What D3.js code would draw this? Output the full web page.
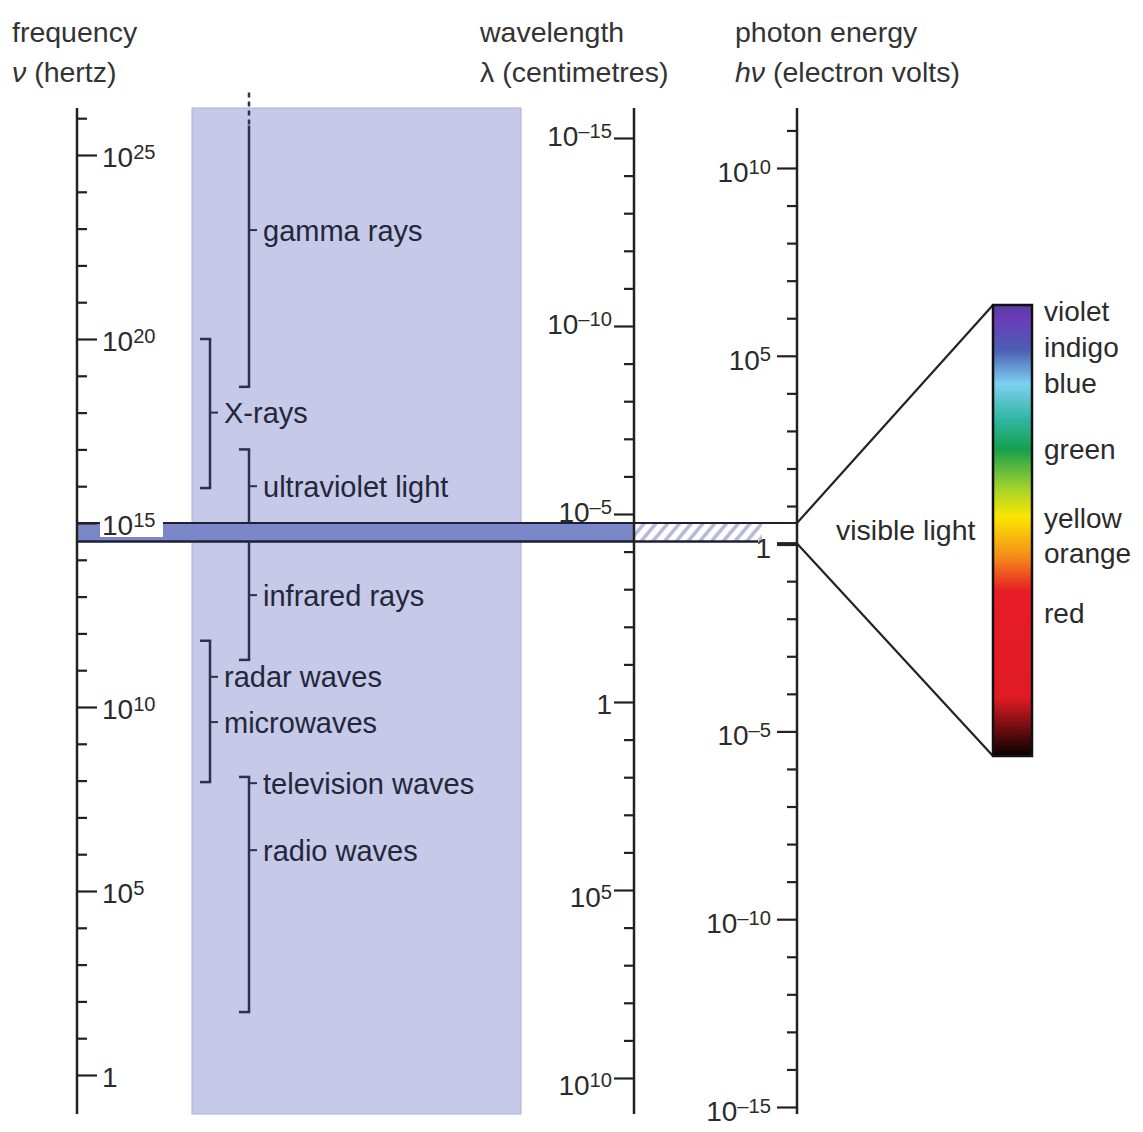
<!DOCTYPE html>
<html>
<head>
<meta charset="utf-8">
<title>Electromagnetic spectrum</title>
<style>
	body { margin: 0; background: #fff; }
	svg text { font-family: "Liberation Sans", Arial, sans-serif; fill: #2b2b2b; }
</style>
</head>
<body>
<div class="drawing"></div>
<script src="https://d3js.org/d3.v7.min.js"></script>
<script>
	// exponents of the major ticks on each scale
	var freqMajor = [25, 20, 15, 10, 5, 0];
	var lambdaMajor = [-15, -10, -5, 0, 5, 10];
	var energyMajor = [10, 5, 0, -5, -10, -15];

	// brackets, in log10(hertz)
	var bracketCol = ["inner", "outer", "inner", "inner", "outer", "inner"];
	var bracketTop = [25.8, 20.0, 17.0, 14.5, 11.8, 8.1];
	var bracketBottom = [18.7, 15.95, 15.0, 11.28, 7.96, 1.71];
	var bracketFootTop = [false, true, true, false, true, true];
	var bracketFootBottom = [true, true, false, true, true, true];

	// region names and where their label sits, log10(hertz)
	var regionNames = ["gamma rays", "X-rays", "ultraviolet light", "infrared rays",
		"radar waves", "microwaves", "television waves", "radio waves"];
	var regionAt = [22.96, 18.0, 16.0, 13.04, 10.82, 9.59, 7.93, 6.11];
	var regionCol = ["inner", "outer", "inner", "inner", "outer", "outer", "inner", "inner"];

	// visible band, log10(hertz)
	var visibleFreq = [14.5, 15.0];

	// colours of the visible spectrum, 0 = top of bar (violet)
	var colourNames = ["violet", "indigo", "blue", "green", "yellow", "orange", "red"];
	var colourAt = [0.013, 0.093, 0.173, 0.32, 0.471, 0.549, 0.682];
	var spectrumOffsets = [0, 0.03, 0.1, 0.175, 0.255, 0.32, 0.41, 0.47, 0.555, 0.635, 0.87, 1];
	var spectrumColours = ["#5b3aa3", "#6a3cb8", "#4b5fb3", "#7dd0f2", "#2fb5a0", "#16a04e",
		"#a9d42a", "#fbe600", "#f39018", "#e81c26", "#e01b24", "#080000"];

	var w = 1143, h = 1132;
	var xFreq = 77, xLambda = 634, xEnergy = 797;
	var axisTop = 108, axisBottom = 1114;
	var colX = { outer: 210, inner: 249 };
	var barX0 = 993, barX1 = 1032, barTop = 305, barBottom = 756;
	var ink = "#222";

	function p10(e) { return Math.pow(10, e); }

	var yFreq = d3.scaleLog().domain([1, 1e25]).range([1075, 155]);
	var yLambda = d3.scaleLog().domain([1e-15, 1e10]).range([138, 1078]);
	var yEnergy = d3.scaleLog().domain([1e10, 1e-15]).range([168, 1107]);
	var yBar = d3.scaleLinear().domain([0, 1]).range([barTop, barBottom]);

	var SVG = d3.select("div.drawing").append("svg")
		.attr("width", w)
		.attr("height", h);

	var defs = SVG.append("defs");
	var hatch = defs.append("pattern")
		.attr("id", "hatch")
		.attr("patternUnits", "userSpaceOnUse")
		.attr("width", 9).attr("height", 9)
		.attr("patternTransform", "rotate(40)");
	hatch.append("rect").attr("width", 9).attr("height", 9).attr("fill", "#fff");
	hatch.append("line").attr("x1", 2).attr("y1", 0).attr("x2", 2).attr("y2", 9)
		.attr("stroke", "#b3b7d6").attr("stroke-width", 3.5);

	var grad = defs.append("linearGradient")
		.attr("id", "spectrum")
		.attr("x1", 0).attr("y1", 0).attr("x2", 0).attr("y2", 1);
	grad.selectAll("stop")
		.data(spectrumOffsets)
		.enter().append("stop")
		.attr("offset", function(d) { return d; })
		.attr("stop-color", function(d, i) { return spectrumColours[i]; });

	/* headers */
	var headers = [
		[12, "frequency", null], [12, "(hertz)", "ν"],
		[480, "wavelength", null], [480, "λ (centimetres)", ""],
		[735, "photon energy", null], [735, "(electron volts)", "hν"]
	];
	headers.forEach(function(hd, i) {
		var t = SVG.append("text")
			.attr("x", hd[0]).attr("y", i % 2 ? 82 : 42)
			.attr("font-size", 28.5).style("fill", "#333");
		if (hd[2]) t.append("tspan").attr("font-style", "italic").text(hd[2] + " ");
		t.append("tspan").text(hd[1]);
	});

	/* shaded block behind the region names */
	SVG.append("rect")
		.attr("x", 192).attr("y", axisTop)
		.attr("width", 329).attr("height", axisBottom - axisTop)
		.attr("fill", "#c6c9e8")
		.attr("stroke", "#aab0da").attr("stroke-width", 1);

	/* visible band */
	var bandTop = yFreq(p10(visibleFreq[1])), bandBottom = yFreq(p10(visibleFreq[0]));
	SVG.append("rect")
		.attr("x", xFreq).attr("y", bandTop)
		.attr("width", xLambda - xFreq).attr("height", bandBottom - bandTop)
		.attr("fill", "#7c87c9");
	SVG.append("rect")
		.attr("x", xLambda).attr("y", bandTop)
		.attr("width", 128).attr("height", bandBottom - bandTop)
		.attr("fill", "url(#hatch)");
	SVG.append("line")
		.attr("x1", xFreq).attr("x2", xEnergy)
		.attr("y1", bandTop).attr("y2", bandTop)
		.attr("stroke", "#1d1f33").attr("stroke-width", 2);
	SVG.append("line")
		.attr("x1", xFreq).attr("x2", 758)
		.attr("y1", bandBottom).attr("y2", bandBottom)
		.attr("stroke", "#1d1f33").attr("stroke-width", 2.5);

	/* brackets */
	var bg = SVG.append("g").attr("stroke", "#2c3150").attr("stroke-width", 2.5).attr("fill", "none");
	bracketTop.forEach(function(top, i) {
		var x = colX[bracketCol[i]];
		var y0 = yFreq(p10(top)), y1 = yFreq(p10(bracketBottom[i]));
		bg.append("line").attr("x1", x).attr("x2", x).attr("y1", y0).attr("y2", y1);
		if (bracketFootTop[i]) bg.append("line").attr("x1", x - 10).attr("x2", x + 1.2).attr("y1", y0).attr("y2", y0);
		if (bracketFootBottom[i]) bg.append("line").attr("x1", x - 10).attr("x2", x + 1.2).attr("y1", y1).attr("y2", y1);
	});
	// gamma rays run on off the top
	bg.append("line")
		.attr("x1", colX.inner).attr("x2", colX.inner)
		.attr("y1", yFreq(p10(26.7))).attr("y2", yFreq(p10(bracketTop[0])))
		.attr("stroke-dasharray", "5,4");

	regionNames.forEach(function(name, i) {
		var x = colX[regionCol[i]], y = yFreq(p10(regionAt[i]));
		bg.append("line").attr("x1", x).attr("x2", x + 8).attr("y1", y).attr("y2", y).attr("stroke-width", 2);
		SVG.append("text")
			.attr("x", x + 14).attr("y", y).attr("dy", "0.36em")
			.attr("font-size", 29).style("fill", "#23273a")
			.text(name);
	});

	/* axes */
	function expLabel(sel, e) {
		if (e === 0) { sel.text("1"); return; }
		sel.append("tspan").text("10");
		sel.append("tspan").attr("dy", "-0.42em").attr("font-size", "0.72em")
			.text(e < 0 ? "\u2013" + (-e) : e);
	}

	function drawAxis(scale, x, right, majors, lo, hi, labelX, labelDy) {
		var minors = d3.range(lo, hi + 1).filter(function(e) {
			var y = scale(p10(e));
			return majors.indexOf(e) < 0 && y > axisTop + 3 && y < axisBottom - 3;
		});
		var mk = right ? d3.axisRight : d3.axisLeft;
		var g = SVG.append("g").attr("transform", "translate(" + x + ",0)").attr("color", ink);
		g.append("g").call(mk(scale).tickValues(minors.map(p10)).tickSize(10).tickFormat(""));
		g.append("g").attr("class", "major").call(mk(scale).tickValues(majors.map(p10)).tickSize(20).tickFormat(""));
		g.selectAll(".domain").remove();
		g.selectAll(".tick line").attr("stroke-width", 2.2);
		g.append("line").attr("x1", 0).attr("x2", 0).attr("y1", axisTop).attr("y2", axisBottom)
			.attr("stroke", ink).attr("stroke-width", 2.5);
		majors.forEach(function(e) {
			var t = SVG.append("text")
				.attr("x", x + labelX).attr("y", scale(p10(e)) + labelDy(e))
				.attr("font-size", 28)
				.attr("text-anchor", right ? "start" : "end");
			expLabel(t, e);
		});
		return g;
	}

	// white patch behind 10^15 where it sits on the band
	SVG.append("rect").attr("x", 100).attr("y", 505).attr("width", 63).attr("height", 32).attr("fill", "#fff");

	drawAxis(yFreq, xFreq, true, freqMajor, -1, 26, 25, function() { return 12; });
	drawAxis(yLambda, xLambda, false, lambdaMajor, -16, 10, -22, function(e) {
		return e < 0 ? 8 : (e === 0 ? 12 : 17);
	});
	var eAxis = drawAxis(yEnergy, xEnergy, false, energyMajor, -15, 11, -26, function() { return 14; });
	eAxis.selectAll("g.major .tick").filter(function(d) { return d === 1; })
		.select("line").attr("stroke-width", 4);

	/* fan out to the colour bar */
	var fan = SVG.append("g").attr("stroke", ink).attr("stroke-width", 2.2);
	fan.append("line").attr("x1", xEnergy).attr("y1", bandTop).attr("x2", barX0).attr("y2", barTop);
	fan.append("line").attr("x1", xEnergy).attr("y1", yEnergy(1)).attr("x2", barX0).attr("y2", barBottom);

	SVG.append("text")
		.attr("x", 836).attr("y", 530).attr("dy", "0.36em")
		.attr("font-size", 28.5)
		.text("visible light");

	SVG.append("rect")
		.attr("x", barX0).attr("y", barTop)
		.attr("width", barX1 - barX0).attr("height", barBottom - barTop)
		.attr("fill", "url(#spectrum)")
		.attr("stroke", "#111").attr("stroke-width", 2.5);

	colourNames.forEach(function(name, i) {
		SVG.append("text")
			.attr("x", 1044).attr("y", yBar(colourAt[i])).attr("dy", "0.36em")
			.attr("font-size", 28)
			.text(name);
	});
</script>
</body>
</html>
